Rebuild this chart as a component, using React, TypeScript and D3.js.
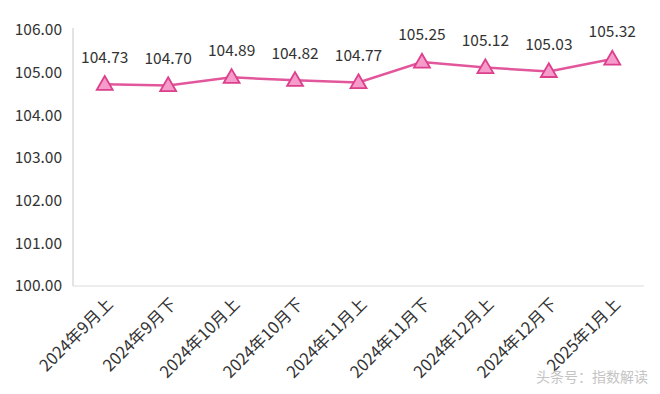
import React, { useEffect, useRef } from 'react';
import * as d3 from 'd3';

const periods = [
  '2024年9月上', '2024年9月下', '2024年10月上', '2024年10月下', '2024年11月上',
  '2024年11月下', '2024年12月上', '2024年12月下', '2025年1月上',
];
const indexValues = [104.73, 104.70, 104.89, 104.82, 104.77, 105.25, 105.12, 105.03, 105.32];
const yTicks = [100, 101, 102, 103, 104, 105, 106];

const W = 660;
const H = 394;
const FONT = '"Noto Sans CJK SC", "Noto Sans", sans-serif';

export default function App() {
  const ref = useRef<SVGSVGElement>(null);

  useEffect(() => {
    const svg = d3.select(ref.current);
    svg.selectAll('*').remove();

    const left = 73, right = 644, top = 30, bottom = 286;

    const x = d3.scaleBand().domain(periods).range([left, right]);
    const y = d3.scaleLinear().domain([100, 106]).range([bottom, top]);

    // y axis line + baseline
    svg.append('line')
      .attr('x1', left).attr('x2', left).attr('y1', top - 2).attr('y2', bottom)
      .attr('stroke', '#c8c8c8').attr('stroke-width', 1);
    svg.append('line')
      .attr('x1', left).attr('x2', right).attr('y1', bottom).attr('y2', bottom)
      .attr('stroke', '#dcdcdc').attr('stroke-width', 1);

    // y tick labels
    svg.append('g').selectAll('text')
      .data(yTicks)
      .enter().append('text')
      .attr('x', 62)
      .attr('y', d => y(d))
      .attr('dy', '0.35em')
      .attr('text-anchor', 'end')
      .attr('font-family', FONT)
      .attr('font-size', 15.5)
      .attr('fill', '#333')
      .text(d => d.toFixed(2));

    // x labels, rotated
    svg.append('g').selectAll('text')
      .data(periods)
      .enter().append('text')
      .attr('transform', d => `translate(${(x(d) as number) + x.bandwidth() / 2 + 1}, 297) rotate(-45)`)
      .attr('text-anchor', 'end')
      .attr('dy', '0.7em')
      .attr('font-family', FONT)
      .attr('font-size', 16.5)
      .attr('fill', '#333')
      .text(d => d);

    const cx = (i: number) => (x(periods[i]) as number) + x.bandwidth() / 2;

    // line
    const line = d3.line<number>()
      .x((_, i) => cx(i))
      .y(d => y(d));
    svg.append('path')
      .datum(indexValues)
      .attr('d', line)
      .attr('fill', 'none')
      .attr('stroke', '#e2569b')
      .attr('stroke-width', 2.5);

    // triangle markers
    const tri = d3.symbol().type(d3.symbolTriangle).size(110);
    svg.append('g').selectAll('path')
      .data(indexValues)
      .enter().append('path')
      .attr('d', tri)
      .attr('transform', (d, i) => `translate(${cx(i)}, ${y(d) + 1})`)
      .attr('fill', '#f59ccb')
      .attr('stroke', '#dc3f8c')
      .attr('stroke-width', 1.8);

    // value labels
    svg.append('g').selectAll('text')
      .data(indexValues)
      .enter().append('text')
      .attr('x', (_, i) => cx(i))
      .attr('y', d => y(d) - 27)
      .attr('dy', '0.35em')
      .attr('text-anchor', 'middle')
      .attr('font-family', FONT)
      .attr('font-size', 15.5)
      .attr('fill', '#333')
      .text(d => d.toFixed(2));

    // watermark
    svg.append('text')
      .attr('x', 648).attr('y', 377)
      .attr('dy', '0.35em')
      .attr('text-anchor', 'end')
      .attr('font-family', FONT)
      .attr('font-size', 14)
      .attr('fill', '#c4c4c4')
      .text('头条号：指数解读');
  }, []);

  return (
    <svg ref={ref} width={W} height={H}
      style={{ position: 'absolute', left: 0, top: 0, background: '#fff' }} />
  );
}
